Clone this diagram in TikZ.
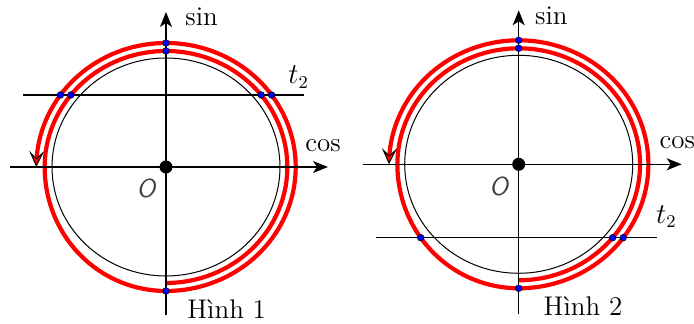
\documentclass[tikz,border=0pt]{standalone}
\usepackage{tikz}
\usetikzlibrary{arrows.meta,intersections}

\begin{document}
\begin{tikzpicture}[
  x=0.5pt, y=0.5pt,
  declare function={rr(\x)=120-4*cos(180*min(1,max(0,(\x-180)/90)));},
  ax/.style={line width=0.6pt, -{Stealth[length=7.5pt, width=6pt, inset=2pt]}},
  ring/.style={line width=0.5pt},
  tline/.style={line width=0.6pt},
  spiral/.style={red, line width=2.1pt, -{Stealth[color=black, fill=red, length=8pt, width=7.5pt, inset=3.5pt, line width=0.5pt]}},
  dot/.style={draw=black, fill=blue, line width=0.3pt},
  lbl/.style={font=\fontsize{13.5}{15}\selectfont, inner sep=0pt, anchor=base west},
  olbl/.style={font=\fontsize{13}{14}\selectfont\sffamily\itshape, text=black!75, inner sep=0pt}
]
  \useasboundingbox (0,0) rectangle (694,324);

  % Hinh 1
  \begin{scope}[shift={(166,157)}]
    \coordinate (o1) at (0,0);
    \coordinate (xl1) at (-156,0);
    \coordinate (xr1) at (162,0);
    \coordinate (yb1) at (0,-148);
    \coordinate (yt1) at (0,155);
    \coordinate (tl1) at (-143,72);
    \coordinate (tr1) at (138,72);
    \draw[spiral, name path=sp1] plot[domain=-90:540, samples=253, variable=\q]
      ({1.046*rr(\q)*cos(\q)}, {rr(\q)*sin(\q)});
    \draw[ring] (o1) ellipse[x radius=114, y radius=109];
    \draw[ax] (xl1) -- (xr1);
    \draw[ax] (yb1) -- (yt1);
    \draw[tline, name path=tn1] (tl1) -- (tr1);
    \fill (o1) circle[radius=6.5];
    \path[dot, name intersections={of=sp1 and tn1, name=c1, total=\n}]
      \foreach \k in {1,...,\n} {(c1-\k) circle[radius=3.3]};
    \path[dot] (0,116) circle[radius=3.3] (0,124) circle[radius=3.3] (0,-124) circle[radius=3.3];
    \node[lbl] (sin1) at (19,141) {sin};
    \node[lbl] (cos1) at (139,15.3) {cos};
    \node[lbl] (t1) at (122,83) {$t_2$};
    \node[olbl] (ol1) at (-20,-21) {O};
    \node[lbl] (h1) at (21,-152) {Hình 1};
  \end{scope}

  % Hinh 2
  \begin{scope}[shift={(518.7,159.7)}]
    \coordinate (o2) at (0,0);
    \coordinate (xl2) at (-156,0);
    \coordinate (xr2) at (163,0);
    \coordinate (yb2) at (0,-150);
    \coordinate (yt2) at (0,154);
    \coordinate (tl2) at (-143,-73.4);
    \coordinate (tr2) at (138,-73.4);
    \draw[spiral, name path=sp2] plot[domain=-90:540, samples=253, variable=\q]
      ({1.046*rr(\q)*cos(\q)}, {rr(\q)*sin(\q)});
    \draw[ring] (o2) ellipse[x radius=114, y radius=109];
    \draw[ax] (xl2) -- (xr2);
    \draw[ax] (yb2) -- (yt2);
    \draw[tline, name path=tn2] (tl2) -- (tr2);
    \fill (o2) circle[radius=6.5];
    \path[dot, name intersections={of=sp2 and tn2, name=c2, total=\n}]
      \foreach \k in {1,...,\n} {(c2-\k) circle[radius=3.3]};
    \path[dot] (0,116) circle[radius=3.3] (0,124) circle[radius=3.3] (0,-124) circle[radius=3.3];
    \node[lbl] (sin2) at (16,139.3) {sin};
    \node[lbl] (cos2) at (140.6,16) {cos};
    \node[lbl] (t2) at (137,-59) {$t_2$};
    \node[olbl] (ol2) at (-20,-22.4) {O};
    \node[lbl] (h2) at (24.6,-151.7) {Hình 2};
  \end{scope}
\end{tikzpicture}
\end{document}
